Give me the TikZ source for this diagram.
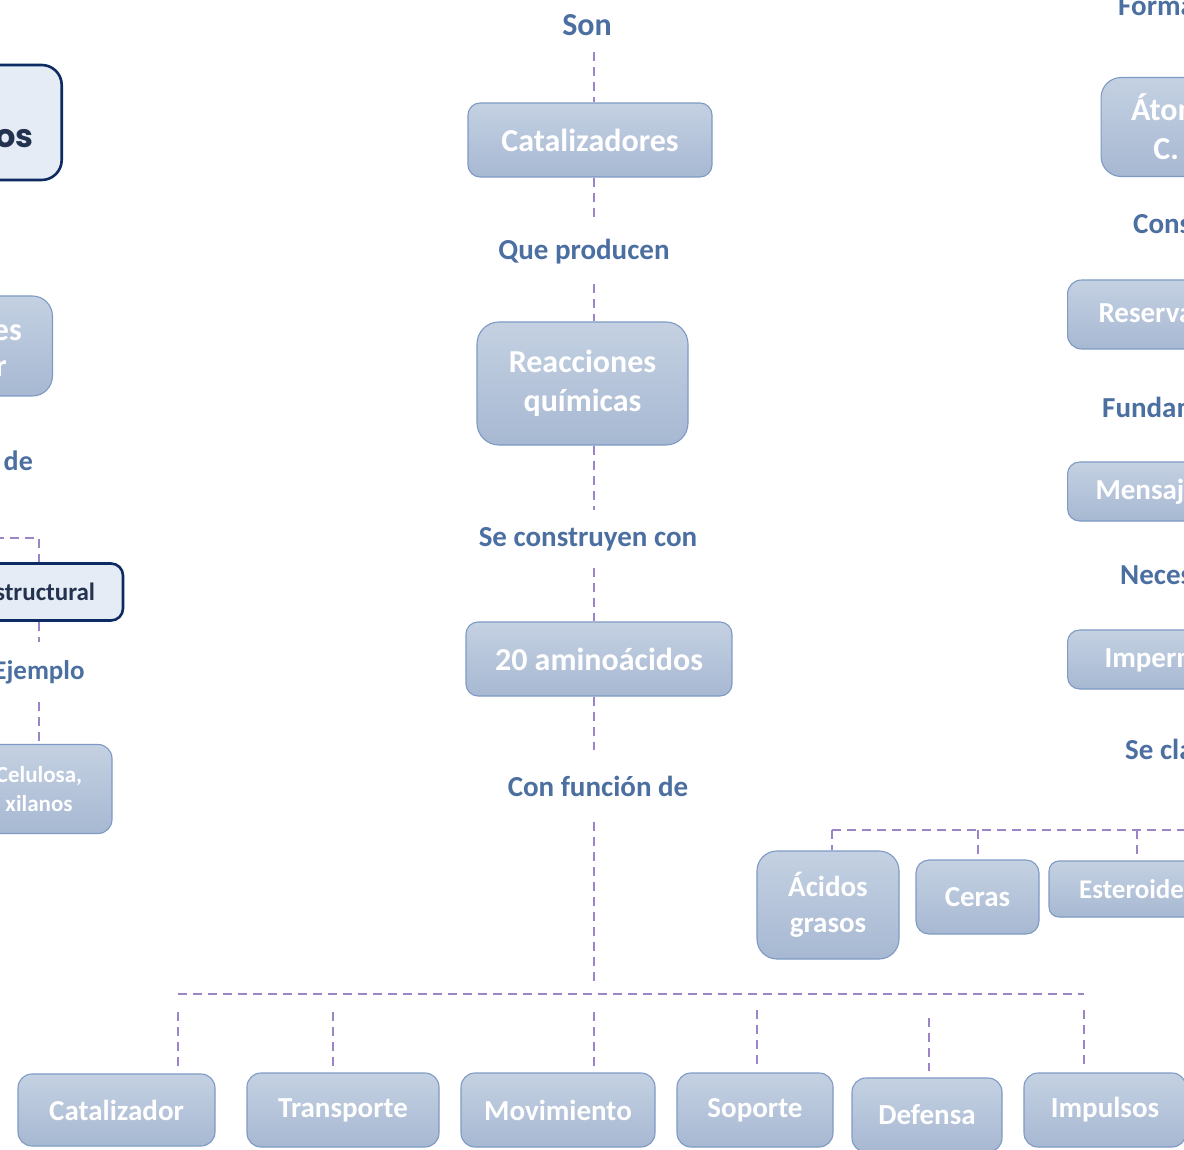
\documentclass[tikz,border=0pt]{standalone}
\usepackage{fontspec}
\setmainfont{Carlito}
\newfontfamily\heavyfont{Poppins}
\usetikzlibrary{calc}
\definecolor{boxtop}{HTML}{C4D1E2}
\definecolor{boxbot}{HTML}{A7B8D2}
\definecolor{boxline}{HTML}{7E9AC4}
\definecolor{lbl}{HTML}{4C6FA1}
\definecolor{dashc}{HTML}{9B85C6}
\definecolor{navy}{HTML}{0D2A62}
\definecolor{darkfill}{HTML}{E5ECF5}
\definecolor{darktext}{HTML}{22324F}
\begin{document}
\begin{tikzpicture}[x=1pt,y=-1pt,
  lbox/.style={rectangle, draw=boxline, line width=1.1pt, top color=boxtop, bottom color=boxbot,
     text=white, align=center, inner sep=0pt, font=\bfseries\fontsize{32}{39}\selectfont},
  fbox/.style={lbox, font=\bfseries\fontsize{29}{36}\selectfont},
  dbox/.style={rectangle, draw=navy, line width=2.6pt, fill=darkfill, inner sep=0pt},
  lab/.style={text=lbl, font=\bfseries\fontsize{29}{35}\selectfont, inner sep=0pt},
  wtxt/.style={text=white, font=\bfseries\fontsize{32}{39}\selectfont, inner sep=0pt},
  conn/.style={draw=dashc, line width=1.8pt, dash pattern=on 9pt off 6pt}
]
\useasboundingbox (0,0) rectangle (1184,1150);
\clip (0,0) rectangle (1184,1150);
\fill[white] (0,0) rectangle (1184,1150);
\coordinate (spine) at (594,0);

% ---------- centre column ----------
\node[lab, minimum height=54pt, font=\bfseries\fontsize{32}{38}\selectfont] (son) at (587,25) {Son};
\node[lbox, rounded corners=12pt, minimum width=244pt, minimum height=74pt] (cat) at (590,140) {Catalizadores};
\node[lab, minimum height=64pt] (que) at (584,252) {Que producen};
\node[lbox, rounded corners=22pt, minimum width=211pt, minimum height=123pt] (reac) at (582.5,383.5) {Reacciones\\químicas};
\node[lab, minimum height=58pt] (secons) at (588,539) {Se construyen con};
\node[lbox, rounded corners=12pt, minimum width=266pt, minimum height=74pt] (amino) at (599,659) {20 aminoácidos};
\node[lab, minimum height=72pt] (confun) at (598,786) {Con función de};

\draw[conn] (son.south -| spine) -- (cat.north -| spine);
\draw[conn] (cat.south -| spine) -- (que.north -| spine);
\draw[conn] (que.south -| spine) -- (reac.north -| spine);
\draw[conn] (reac.south -| spine) -- (secons.north -| spine);
\draw[conn] (secons.south -| spine) -- (amino.north -| spine);
\draw[conn] (amino.south -| spine) -- (confun.north -| spine);

\coordinate (hb) at (594,986);
\coordinate (hl) at (178,994);
\coordinate (hr) at (1084,994);
\draw[conn] (confun.south -| spine) -- (hb);
\draw[conn] (hl) -- (hr);

% bottom row
\node[fbox, rounded corners=14pt, minimum width=197pt, minimum height=72pt] (catz) at (116.5,1110) {Catalizador};
\node[fbox, rounded corners=14pt, minimum width=192pt, minimum height=74pt] (trans) at (343,1110) {Transporte};
\node[fbox, rounded corners=14pt, minimum width=194pt, minimum height=74pt] (movi) at (558,1110) {Movimiento};
\node[fbox, rounded corners=14pt, minimum width=156pt, minimum height=74pt] (sopo) at (755,1110) {Soporte};
\node[fbox, rounded corners=14pt, minimum width=150pt, minimum height=74pt] (defe) at (927,1115) {Defensa};
\node[fbox, rounded corners=14pt, minimum width=162pt, minimum height=74pt] (impu) at (1105,1110) {Impulsos};

\coordinate (d1) at (178,1012);
\coordinate (d2) at (333,1012);
\coordinate (d3) at (594,1012);
\coordinate (d4) at (757,1010);
\coordinate (d5) at (929,1018);
\coordinate (d6) at (1084,1010);
\draw[conn, shorten >=6pt] (d1) -- (d1 |- catz.north);
\draw[conn, shorten >=6pt] (d2) -- (d2 |- trans.north);
\draw[conn, shorten >=6pt] (d3) -- (d3 |- movi.north);
\draw[conn, shorten >=8pt] (d4) -- (d4 |- sopo.north);
\draw[conn, shorten >=6pt] (d5) -- (d5 |- defe.north);
\draw[conn, shorten >=8pt] (d6) -- (d6 |- impu.north);

% ---------- right column ----------
\node[lab, anchor=west] (forma) at (1118,8) {Formados por};
\node[lbox, rounded corners=20pt, minimum width=203pt, minimum height=99pt] (atom) at (1202.6,127) {Átomos de\\C. H. O.};
\node[lab, anchor=west] (cons) at (1133,226) {Constituyen};
\node[fbox, rounded corners=14pt, anchor=west, inner xsep=31pt, minimum height=69pt] (reser) at (1067,314.5) {Reserva energética};
\node[lab, anchor=west] (fund) at (1102,407) {Fundamentales en};
\node[fbox, rounded corners=12pt, anchor=west, inner xsep=28pt, minimum height=59pt] (mens) at (1067,491.5) {Mensajeros químicos};
\node[lab, anchor=west] (neces) at (1120,577) {Necesarios para};
\node[fbox, rounded corners=12pt, anchor=west, inner xsep=37pt, minimum height=59pt] (imper) at (1067,659.5) {Impermeabilizantes};
\node[lab, anchor=west] (secla) at (1125,749) {Se clasifican en};

\node[fbox, rounded corners=20pt, minimum width=142pt, minimum height=108pt] (acid) at (828,905) {Ácidos\\grasos};
\node[fbox, rounded corners=13pt, minimum width=123pt, minimum height=74pt] (ceras) at (977.5,897) {Ceras};
\node[lbox, rounded corners=10pt, minimum width=176pt, minimum height=56pt, font=\bfseries\fontsize{27}{33}\selectfont] (ester) at (1137,889) {Esteroides};

\coordinate (rl) at (832,830);
\coordinate (rr) at (1200,830);
\coordinate (rc) at (978,830);
\coordinate (re) at (1137,830);
\draw[conn] (rl) -- (rr);
\draw[conn] (rl) -- (rl |- acid.north);
\draw[conn, shorten >=5pt] (rc) -- (rc |- ceras.north);
\draw[conn, shorten >=5pt] (re) -- (re |- ester.north);

% ---------- left column ----------
\node[dbox, rounded corners=20pt, anchor=east, minimum width=220pt, minimum height=115pt] (topd) at (63,122.5) {};
\node[anchor=base east, inner sep=0pt, text=darktext, font=\heavyfont\bfseries\fontsize{32}{38}\selectfont] (topt) at (34,148) {Carbohidratos};

\node[lbox, rounded corners=20pt, anchor=east, minimum width=220pt, minimum height=100pt] (box2) at (53,346) {};
\node[wtxt, anchor=base east] (b2a) at (22,340.5) {Componentes};
\node[wtxt, anchor=base east] (b2b) at (7,376.5) {de la pared celular};

\node[lab, anchor=base east, font=\bfseries\fontsize{28}{34}\selectfont] (lde) at (33,470.5) {Con función de};

\node[dbox, rounded corners=12pt, minimum width=168pt, minimum height=57pt, text=darktext, font=\bfseries\fontsize{25}{30}\selectfont] (estr) at (39,592) {Estructural};
\coordinate (lh) at (-20,538);
\draw[conn] (lh) -| (estr.north);

\node[lab, minimum height=60pt, font=\bfseries\fontsize{27}{33}\selectfont] (ejem) at (39,672) {Ejemplo};
\node[lbox, rounded corners=14pt, minimum width=146pt, minimum height=89pt, font=\bfseries\fontsize{23}{29}\selectfont] (cel) at (39,789) {Celulosa,\\xilanos};
\draw[conn] (estr.south) -- (ejem.north);
\draw[conn] (ejem.south) -- (cel.north);
\end{tikzpicture}
\end{document}
